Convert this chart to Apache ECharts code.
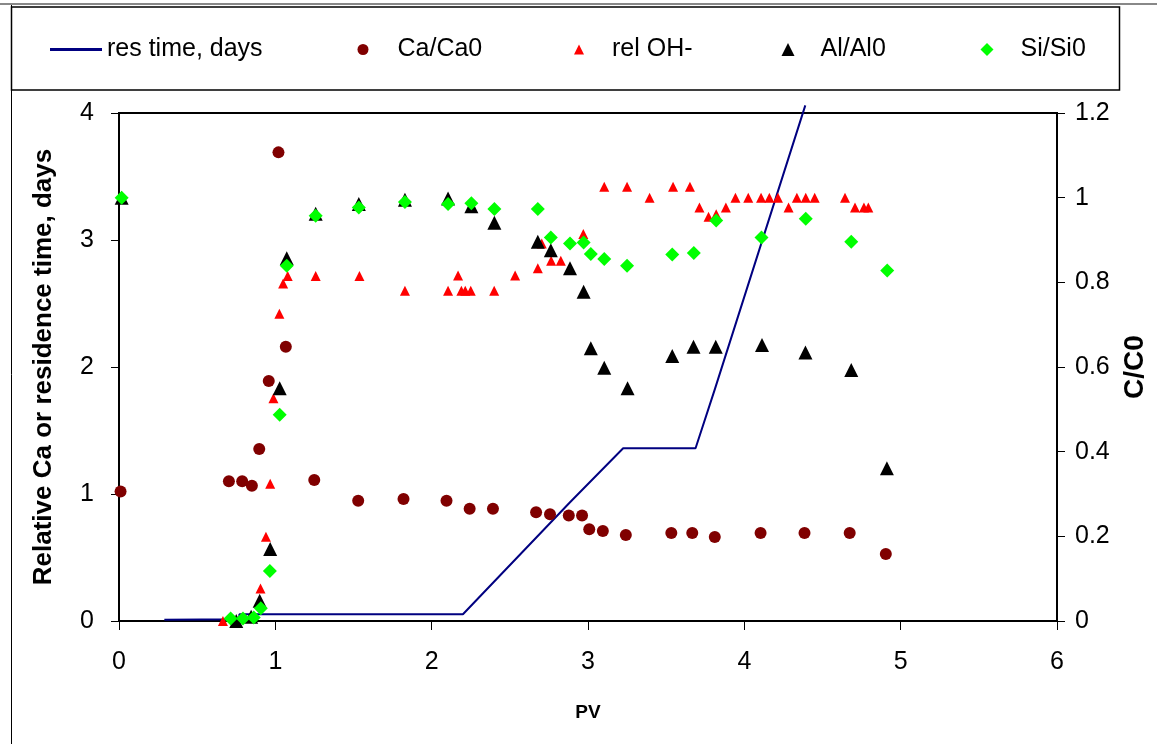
<!DOCTYPE html>
<html>
<head>
<meta charset="utf-8">
<title>res time vs PV</title>
<script src="https://cdn.jsdelivr.net/npm/echarts@6/dist/echarts.min.js"></script>
<style>
  html, body { margin: 0; padding: 0; background: #fff; }
  #chart { width: 1157px; height: 744px; }
</style>
</head>
<body>
<div id="chart"></div>
<script>
// data, [PV, value]
var resTime = [
  [0.29, 0.01], [0.77, 0.013], [0.77, 0.053], [2.2, 0.053], [2.885, 0.935],
  [3.225, 1.36], [3.688, 1.36], [3.81, 1.82], [4.39, 4.06]
]
var caCa0 = [
  [0.01, 1.02], [0.703, 1.10], [0.788, 1.10], [0.85, 1.065], [0.897, 1.354],
  [0.958, 1.89], [1.02, 3.69], [1.067, 2.16], [1.249, 1.11], [1.53, 0.947],
  [1.82, 0.96], [2.095, 0.946], [2.243, 0.884], [2.392, 0.884], [2.668, 0.856],
  [2.757, 0.84], [2.877, 0.83], [2.962, 0.83], [3.008, 0.722], [3.095, 0.709],
  [3.242, 0.677], [3.533, 0.693], [3.667, 0.693], [3.811, 0.661], [4.104, 0.693],
  [4.385, 0.693], [4.674, 0.693], [4.905, 0.528]
]
var relOH = [
  [0.665, 0.0], [0.905, 0.077], [0.94, 0.199], [0.967, 0.324], [0.988, 0.526],
  [1.026, 0.726], [1.05, 0.797], [1.079, 0.815], [1.258, 0.815], [1.538, 0.815],
  [1.829, 0.78], [2.105, 0.78], [2.169, 0.816], [2.19, 0.78], [2.215, 0.78],
  [2.25, 0.78], [2.4, 0.78], [2.534, 0.816], [2.679, 0.833], [2.704, 0.892],
  [2.764, 0.851], [2.826, 0.851], [2.97, 0.914], [3.104, 1.026], [3.25, 1.026],
  [3.394, 1.0], [3.544, 1.026], [3.652, 1.026], [3.713, 0.977], [3.771, 0.955],
  [3.82, 0.961], [3.882, 0.977], [3.943, 1.0], [4.025, 1.0], [4.107, 1.0],
  [4.16, 1.0], [4.215, 1.0], [4.283, 0.977], [4.336, 1.0], [4.393, 1.0],
  [4.45, 1.0], [4.644, 1.0], [4.708, 0.977], [4.765, 0.977], [4.793, 0.977]
]
var alAl0 = [
  [0.017, 1.0], [0.75, 0.0], [0.845, 0.01], [0.9, 0.048], [0.967, 0.17],
  [1.028, 0.55], [1.073, 0.857], [1.258, 0.962], [1.534, 0.985], [1.829, 0.995],
  [2.105, 0.998], [2.254, 0.98], [2.401, 0.941], [2.679, 0.896], [2.762, 0.876],
  [2.885, 0.833], [2.972, 0.778], [3.018, 0.644], [3.104, 0.598], [3.253, 0.55],
  [3.539, 0.626], [3.675, 0.648], [3.817, 0.648], [4.113, 0.652], [4.391, 0.634],
  [4.684, 0.593], [4.912, 0.361]
]
var siSi0 = [
  [0.017, 1.0], [0.714, 0.006], [0.793, 0.006], [0.862, 0.008], [0.907, 0.03],
  [0.965, 0.118], [1.028, 0.487], [1.073, 0.839], [1.258, 0.957], [1.534, 0.977],
  [1.829, 0.99], [2.105, 0.985], [2.254, 0.987], [2.401, 0.973], [2.679, 0.973],
  [2.762, 0.906], [2.885, 0.892], [2.972, 0.894], [3.018, 0.867], [3.104, 0.855],
  [3.25, 0.839], [3.539, 0.866], [3.677, 0.869], [3.82, 0.946], [4.11, 0.906],
  [4.393, 0.95], [4.684, 0.896], [4.914, 0.828]
]

var font = '"Liberation Sans", Arial, sans-serif'
var chart = echarts.init(document.getElementById('chart'))

// one legend per entry so each can sit where the original puts it
function legendItem(name, icon, left, width, height, textPad) {
  return {
    data: [{ name: name, icon: icon }],
    left: left,
    top: 32,
    itemWidth: width,
    itemHeight: height,
    selectedMode: false,
    textStyle: { fontFamily: font, fontSize: 25, color: '#000', padding: [0, 0, 0, textPad] }
  }
}

chart.setOption({
  animation: false,
  textStyle: { fontFamily: font },
  graphic: [
    { type: 'line', shape: { x1: 0, y1: 4, x2: 1157, y2: 4 }, style: { stroke: '#888', lineWidth: 2 } },
    { type: 'line', shape: { x1: 11.5, y1: 5, x2: 11.5, y2: 744 }, style: { stroke: '#000', lineWidth: 1 } },
    { type: 'rect', shape: { x: 11.5, y: 7, width: 1108, height: 83 }, style: { fill: 'none', stroke: '#000', lineWidth: 1.5 } }
  ],
  legend: [
    legendItem('res time, days', 'rect', 45, 52, 3, 0),
    legendItem('Ca/Ca0', 'circle', 352.5, 11, 11, 24),
    legendItem('rel OH-', 'triangle', 569, 10, 10, 23),
    legendItem('Al/Al0', 'triangle', 776.5, 13, 13, 21),
    legendItem('Si/Si0', 'diamond', 975.5, 13, 13, 22)
  ],
  grid: {
    left: 119,
    right: 97,
    top: 113,
    bottom: 123,
    show: true,
    borderColor: '#000',
    borderWidth: 2
  },
  xAxis: {
    type: 'value',
    min: 0,
    max: 6,
    interval: 1,
    name: 'PV',
    nameLocation: 'middle',
    nameGap: 82,
    nameTextStyle: { fontSize: 19, fontWeight: 'bold', color: '#000' },
    axisLine: { lineStyle: { color: '#000', width: 2 } },
    axisTick: { inside: false, length: 9, lineStyle: { color: '#000' } },
    axisLabel: { fontSize: 25, color: '#000', margin: 29 },
    splitLine: { show: false }
  },
  yAxis: [{
    type: 'value',
    min: 0,
    max: 4,
    interval: 1,
    name: 'Relative Ca or residence time, days',
    nameLocation: 'middle',
    nameGap: 62,
    nameTextStyle: { fontSize: 26, fontWeight: 'bold', color: '#000' },
    axisLine: { show: true, lineStyle: { color: '#000', width: 2 } },
    axisTick: { show: true, length: 8, lineStyle: { color: '#000' } },
    axisLabel: { fontSize: 25, color: '#000', margin: 25 },
    splitLine: { show: false }
  }, {
    type: 'value',
    min: 0,
    max: 1.2,
    interval: 0.2,
    position: 'right',
    name: 'C/C0',
    nameLocation: 'middle',
    nameGap: 64,
    nameRotate: 90,
    nameTextStyle: { fontSize: 28, fontWeight: 'bold', color: '#000' },
    axisLine: { show: true, lineStyle: { color: '#000', width: 2 } },
    axisTick: { show: true, length: 8, lineStyle: { color: '#000' } },
    axisLabel: { fontSize: 25, color: '#000', margin: 18 },
    splitLine: { show: false }
  }],
  series: [{
    name: 'res time, days',
    type: 'line',
    yAxisIndex: 0,
    data: resTime,
    showSymbol: false,
    symbol: 'none',
    clip: false,
    lineStyle: { color: '#000080', width: 2 },
    itemStyle: { color: '#000080' },
    z: 2
  }, {
    name: 'Ca/Ca0',
    type: 'scatter',
    yAxisIndex: 0,
    data: caCa0,
    symbol: 'circle',
    symbolSize: 12,
    itemStyle: { color: '#800000', opacity: 1 },
    z: 3
  }, {
    name: 'rel OH-',
    type: 'scatter',
    yAxisIndex: 1,
    data: relOH,
    symbol: 'triangle',
    symbolSize: 10,
    itemStyle: { color: '#ff0000', opacity: 1 },
    z: 4
  }, {
    name: 'Al/Al0',
    type: 'scatter',
    yAxisIndex: 1,
    data: alAl0,
    symbol: 'triangle',
    symbolSize: 14,
    itemStyle: { color: '#000', opacity: 1 },
    z: 5
  }, {
    name: 'Si/Si0',
    type: 'scatter',
    yAxisIndex: 1,
    data: siSi0,
    symbol: 'diamond',
    symbolSize: 14,
    itemStyle: { color: '#00ff00', opacity: 1 },
    z: 6
  }]
})
</script>
</body>
</html>
